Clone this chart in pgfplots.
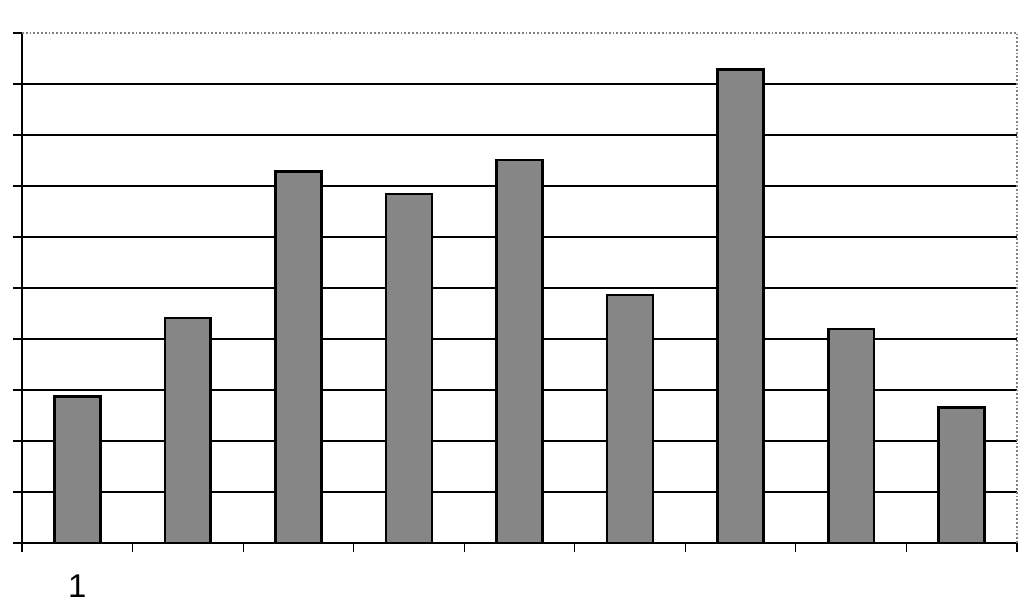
\documentclass[border=0pt]{standalone}
\usepackage{fontspec}
\setmainfont{Liberation Sans}
\usepackage{pgfplots}
\pgfplotsset{compat=1.18}

\pgfplotstableread{
cat val
1 2.87
2 4.41
3 7.28
4 6.84
5 7.51
6 4.86
7 9.29
8 4.20
9 2.66
}\bardata

\begin{document}
\begin{tikzpicture}
% 1 px of the reference = 0.5bp
\useasboundingbox (-11bp,-29.5bp) rectangle (500.5bp,271.5bp);
\begin{axis}[
    scale only axis,
    width=497.5bp,
    height=255bp,
    ybar,
    bar width=0.415,
    xmin=0.5, xmax=9.5,
    ymin=0, ymax=10,
    axis x line*=bottom,
    axis y line*=left,
    axis line style={black, line width=0.9pt},
    xtick={0.5,1.5,...,9.5},
    xticklabels={},
    ytick={0,...,9},
    yticklabels={},
    extra y ticks={10},
    extra y tick labels={},
    extra y tick style={grid=none},
    extra x ticks={1},
    extra x tick labels={1},
    extra x tick style={major tick length=0pt, grid=none,
        xticklabel style={yshift=-12.5bp}},
    tick align=outside,
    major tick length=4.5bp,
    tick style={black, line width=0.6pt},
    ymajorgrids,
    grid style={black, line width=0.6pt},
    /pgf/number format/assume math mode=true,
    ticklabel style={font=\fontsize{16.5}{19}\selectfont},
    clip=false,
]
\addplot[fill=gray!95, draw=black, line width=1.3pt] table[x=cat, y=val] {\bardata};
\draw[gray, densely dotted, line width=0.9pt] (rel axis cs:0,1) -- (rel axis cs:1,1) -- (rel axis cs:1,0);
\end{axis}
\end{tikzpicture}
\end{document}
